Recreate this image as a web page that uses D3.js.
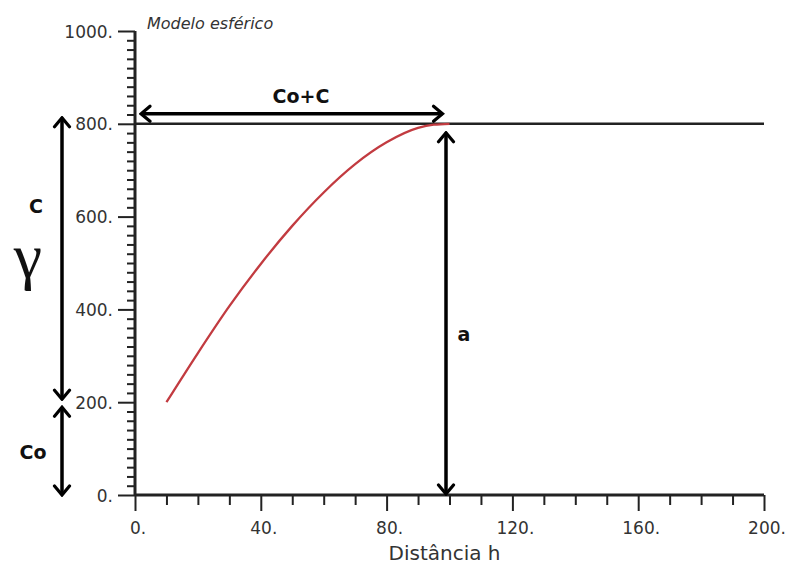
<!DOCTYPE html>
<html>
<head>
<meta charset="utf-8">
<script src="https://cdn.jsdelivr.net/npm/d3@7"></script>
<style>
  body { margin: 0; background: #fff; }
  svg { display: block; }
  .tick-label { font-family: "DejaVu Sans", sans-serif; font-size: 17px; fill: #333; }
  .note { font-family: "DejaVu Sans", sans-serif; font-weight: bold; font-size: 19px; fill: #111; }
</style>
</head>
<body>
<div class="chart"></div>
<script>
// spherical variogram
const distance = [10, 20, 30, 40, 50, 60, 70, 80, 90, 95, 100];
const gamma = [200, 306, 407, 498, 580, 652, 713, 760, 791, 798, 800];
const sill = 800;
const nugget = 200;
const range = 100;
const xMajor = [0, 40, 80, 120, 160, 200];
const yMajor = [0, 200, 400, 600, 800, 1000];

const width = 786;
const height = 565;

const x = d3.scaleLinear().domain([0, 200]).range([135, 764]);
const y = d3.scaleLinear().domain([0, 1000]).range([495, 31]);

const svg = d3.select('.chart')
  .append('svg')
  .attr('width', width)
  .attr('height', height);

svg.append('defs').append('marker')
  .attr('id', 'head')
  .attr('viewBox', '-12 -10 14 20')
  .attr('refX', 0)
  .attr('refY', 0)
  .attr('markerWidth', 14)
  .attr('markerHeight', 20)
  .attr('markerUnits', 'userSpaceOnUse')
  .attr('orient', 'auto-start-reverse')
  .append('path')
  .attr('d', 'M-9,-7.5L0,0L-9,7.5')
  .attr('fill', 'none')
  .attr('stroke', '#000')
  .attr('stroke-width', 3.2)
  .attr('stroke-linecap', 'round');

// axes
const xAxis = d3.axisBottom(x)
  .tickValues(d3.range(0, 201, 10))
  .tickSize(10)
  .tickFormat('');
const gx = svg.append('g')
  .attr('transform', `translate(0,${y(0)})`)
  .call(xAxis);
gx.selectAll('.tick line').filter(d => d % 40 === 0).attr('y2', 16);

const yAxis = d3.axisLeft(y)
  .tickValues(d3.range(0, 1001, 20))
  .tickSize(8)
  .tickFormat('');
const gy = svg.append('g')
  .attr('transform', `translate(${x(0)},0)`)
  .call(yAxis);
gy.selectAll('.tick line').filter(d => d % 200 === 0).attr('x2', -17);

svg.selectAll('.domain').remove();
svg.selectAll('.tick line').attr('stroke', '#222').attr('stroke-width', 2);

svg.append('line')
  .attr('x1', x(0)).attr('x2', x(200))
  .attr('y1', y(0)).attr('y2', y(0))
  .attr('stroke', '#222').attr('stroke-width', 3);
svg.append('line')
  .attr('x1', x(0)).attr('x2', x(0))
  .attr('y1', y(1000)).attr('y2', y(0))
  .attr('stroke', '#222').attr('stroke-width', 3);

svg.append('g').selectAll('text')
  .data(xMajor)
  .join('text')
  .attr('class', 'tick-label')
  .attr('x', d => x(d) + 3)
  .attr('y', 534)
  .attr('text-anchor', 'middle')
  .text(d => `${d}.`);

svg.append('g').selectAll('text')
  .data(yMajor)
  .join('text')
  .attr('class', 'tick-label')
  .attr('x', x(0) - 22)
  .attr('y', d => y(d) + 6.5)
  .attr('text-anchor', 'end')
  .text(d => `${d}.`);

svg.append('text')
  .attr('class', 'tick-label')
  .attr('x', x(100) - 5)
  .attr('y', 560)
  .attr('text-anchor', 'middle')
  .style('font-size', '20px')
  .text('Distância h');

svg.append('text')
  .attr('class', 'tick-label')
  .attr('x', 147)
  .attr('y', 29)
  .style('font-style', 'italic')
  .style('font-size', '16px')
  .text('Modelo esférico');

// sill line
svg.append('line')
  .attr('x1', x(0)).attr('x2', x(200))
  .attr('y1', y(sill)).attr('y2', y(sill))
  .attr('stroke', '#222').attr('stroke-width', 2.5);

// model curve
const line = d3.line()
  .x((d, i) => x(distance[i]))
  .y(d => y(d))
  .curve(d3.curveMonotoneX);
svg.append('path')
  .attr('d', line(gamma))
  .attr('fill', 'none')
  .attr('stroke', '#c23b40')
  .attr('stroke-width', 2.3);

// annotation arrows
const arrow = (x1, y1, x2, y2) => svg.append('line')
  .attr('x1', x1).attr('y1', y1)
  .attr('x2', x2).attr('y2', y2)
  .attr('stroke', '#000')
  .attr('stroke-width', 3.5)
  .attr('marker-start', 'url(#head)')
  .attr('marker-end', 'url(#head)');

const yArrow = y(sill) - 10;
arrow(x(0) + 6, yArrow, x(range) - 7, yArrow);
arrow(62, y(sill) - 6, 62, y(nugget) - 3);
arrow(62, y(nugget) + 5, 62, y(0));
arrow(446, y(0) - 1, 446, y(sill) + 9);

svg.append('text').attr('class', 'note')
  .attr('x', 301).attr('y', 103).attr('text-anchor', 'middle')
  .text('Co+C');
svg.append('text').attr('class', 'note')
  .attr('x', 36).attr('y', 213).attr('text-anchor', 'middle')
  .text('C');
svg.append('text').attr('class', 'note')
  .attr('x', 33).attr('y', 459).attr('text-anchor', 'middle')
  .text('Co');
svg.append('text').attr('class', 'note')
  .attr('x', 464).attr('y', 341).attr('text-anchor', 'middle')
  .text('a');
svg.append('text')
  .attr('x', 28).attr('y', 277)
  .attr('text-anchor', 'middle')
  .style('font-family', '"Liberation Serif", "DejaVu Serif", serif')
  .style('font-size', '64px')
  .style('fill', '#111')
  .text('γ');
</script>
</body>
</html>
